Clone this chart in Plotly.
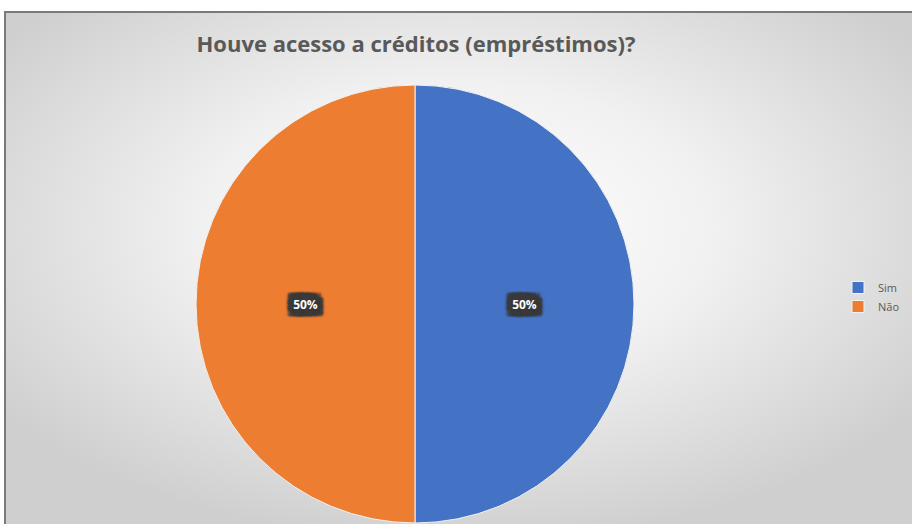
import base64
import plotly.graph_objects as go

# ---- data ----
labels = ["Sim", "Não"]
values = [50, 50]
colors = ["#4472C4", "#ED7D31"]
title_text = "Houve acesso a créditos (empréstimos)?"

W, H = 912, 524

# background radial gradient (decoration)
svg = f"""<svg xmlns='http://www.w3.org/2000/svg' width='907' height='512' viewBox='0 0 907 512' preserveAspectRatio='none'>
<defs><radialGradient id='g' cx='0.5' cy='0.42' r='0.62'>
<stop offset='0' stop-color='#ffffff'/><stop offset='0.45' stop-color='#f1f1f1'/><stop offset='1' stop-color='#cfcfcf'/>
</radialGradient></defs><rect width='907' height='512' fill='url(#g)'/></svg>"""
bg_uri = "data:image/svg+xml;base64," + base64.b64encode(svg.encode()).decode()

# dark "label box" effect via layered text shadows
sc = "#3b3b3b"
offs = [(dx, dy) for dx in (-6, -4, -2, 0, 2, 4, 6) for dy in (-7, -5, -2, 0, 2, 5, 7)]
shadow = ", ".join(f"{sc} {dx}px {dy}px 2px" for dx, dy in offs) + ", rgba(0,0,0,0.45) 2px 3px 7px"

fig = go.Figure(go.Pie(
    labels=labels,
    values=values,
    marker=dict(colors=colors, line=dict(color="#f2f2f2", width=1)),
    sort=False,
    direction="clockwise",
    rotation=0,
    textinfo="percent",
    texttemplate="%{percent:.0%}",
    textposition="inside",
    insidetextorientation="horizontal",
    textfont=dict(family="Open Sans", size=12, color="white", weight="bold", shadow=shadow),
    domain=dict(x=[(415 - 219) / W, (415 + 219) / W], y=[(220 - 219) / H, (220 + 219) / H]),
    hoverinfo="label+percent",
))

fig.update_layout(
    width=W, height=H,
    margin=dict(l=0, r=0, t=0, b=0),
    paper_bgcolor="white",
    title=dict(text=title_text, x=416 / W, xanchor="center", y=1 - 44 / H, yanchor="middle",
               yref="container", xref="container",
               font=dict(family="Open Sans", size=22, color="#595959", weight="bold")),
    legend=dict(x=838 / W, y=1 - 297 / H, xanchor="left", yanchor="middle",
                font=dict(family="Open Sans", size=11, color="#595959"),
                bgcolor="rgba(0,0,0,0)", itemwidth=30),
    images=[dict(source=bg_uri, xref="paper", yref="paper", x=5 / W, y=1 - 12 / H,
                 sizex=(W - 5) / W, sizey=(H - 12) / H, sizing="stretch",
                 xanchor="left", yanchor="top", layer="below")],
    shapes=[
        dict(type="line", xref="paper", yref="paper", x0=4 / W, x1=1, y0=1 - 12 / H, y1=1 - 12 / H,
             line=dict(color="#7a7a7a", width=2)),
        dict(type="line", xref="paper", yref="paper", x0=5 / W, x1=5 / W, y0=0, y1=1 - 12 / H,
             line=dict(color="#7a7a7a", width=2)),
    ],
)

fig.write_html("out.html")
